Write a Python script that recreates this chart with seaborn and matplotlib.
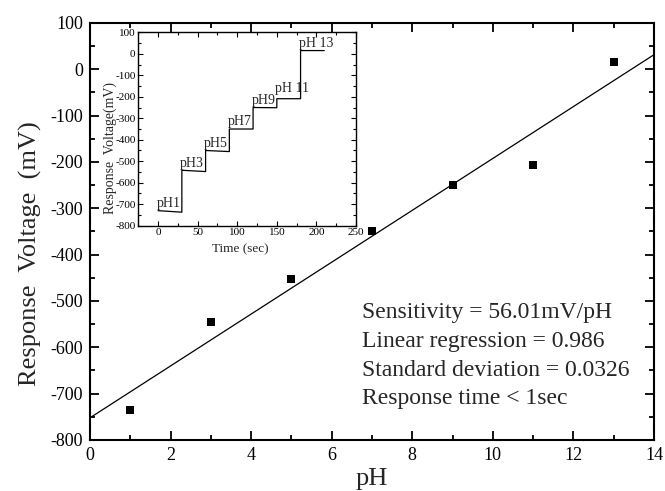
import numpy as np
import pandas as pd
import seaborn as sns
import matplotlib
matplotlib.use("Agg")
import matplotlib.pyplot as plt
from matplotlib.ticker import MultipleLocator

# Calibration points: pH buffer vs. response voltage
ph_values = [1, 3, 5, 7, 9, 11, 13]
response_mv = [-735, -545, -453, -350, -249, -206, 16]

# Transient response: each buffer held for 30 s
seg_start_s = [0, 30, 60, 90, 120, 150, 180]
seg_end_s = [30, 60, 90, 120, 150, 180, 210]
seg_start_mv = [-730, -542, -450, -350, -250, -209, 15]
seg_end_mv = [-737, -548, -455, -350, -251, -209, 15]
seg_labels = ["pH1", "pH3", "pH5", "pH7", "pH9", "pH 11", "pH 13"]
label_offset_mv = [18, 16, 17, 17, 15, 33, 16]

stats_lines = [
    "Sensitivity = 56.01mV/pH",
    "Linear regression = 0.986",
    "Standard deviation = 0.0326",
    "Response time < 1sec",
]

sns.set_style("ticks")
plt.rcParams["font.family"] = ["Liberation Serif", "DejaVu Serif"]
plt.rcParams["axes.unicode_minus"] = False

fig = plt.figure(figsize=(6.65, 4.91), dpi=100)
ax = fig.add_axes([0.1353, 0.1039, 0.8482, 0.8493])

ax.set_xlim(0, 14)
ax.set_ylim(-800, 100)

calib = pd.DataFrame({"pH": ph_values, "mV": response_mv})
sns.regplot(
    data=calib, x="pH", y="mV", ax=ax, ci=None, truncate=False,
    marker="s",
    scatter_kws=dict(s=38, color="black", linewidths=0, alpha=1),
    line_kws=dict(color="black", lw=0.9),
)

ax.xaxis.set_major_locator(MultipleLocator(2))
ax.xaxis.set_minor_locator(MultipleLocator(1))
ax.yaxis.set_major_locator(MultipleLocator(100))
ax.yaxis.set_minor_locator(MultipleLocator(50))
ax.tick_params(which="both", direction="in", top=True, right=True,
               width=1.3, colors="black")
ax.tick_params(which="major", length=6.5, labelsize=13, pad=5)
ax.tick_params(which="minor", length=3.5)
for s in ax.spines.values():
    s.set_linewidth(1.5)
    s.set_color("black")

ax.set_xlabel("pH", fontsize=19, labelpad=3)
ax.set_ylabel("Response  Voltage  (mV)", fontsize=19)
ax.yaxis.set_label_coords(-0.085, 0.446)

stat_y = [-525, -587, -649, -711]
for txt, yv in zip(stats_lines, stat_y):
    ax.text(6.75, yv, txt, fontsize=17, ha="left", va="center")

# Inset: step response over time
t_pts, v_pts = [], []
for t0, t1, v0, v1 in zip(seg_start_s, seg_end_s, seg_start_mv, seg_end_mv):
    t_pts += [t0, t1]
    v_pts += [v0, v1]
steps = pd.DataFrame({"t": t_pts, "v": v_pts})

ins = fig.add_axes([0.208, 0.5403, 0.3273, 0.3939])
sns.lineplot(data=steps, x="t", y="v", ax=ins, sort=False, estimator=None,
             color="black", lw=0.9)
ins.set_xlim(-25, 250)
ins.set_ylim(-800, 100)
ins.xaxis.set_major_locator(MultipleLocator(50))
ins.xaxis.set_minor_locator(MultipleLocator(25))
ins.yaxis.set_major_locator(MultipleLocator(100))
ins.yaxis.set_minor_locator(MultipleLocator(50))
ins.tick_params(which="both", direction="in", top=True, right=True,
                width=0.8, colors="black")
ins.tick_params(which="major", length=3.5, labelsize=8, pad=2)
ins.tick_params(which="minor", length=2)
for s in ins.spines.values():
    s.set_linewidth(1.0)
    s.set_color("black")
ins.set_xlabel("Time (sec)", fontsize=9.5)
ins.xaxis.set_label_coords(0.47, -0.09)
ins.set_ylabel("Response  Voltage(mV)", fontsize=10)
ins.yaxis.set_label_coords(-0.10, 0.40)

for t0, v0, lab, off in zip(seg_start_s, seg_start_mv, seg_labels, label_offset_mv):
    ins.text(t0 - 2, v0 + off, lab, fontsize=10, ha="left", va="baseline")

fig.savefig("out.png", dpi=100)
